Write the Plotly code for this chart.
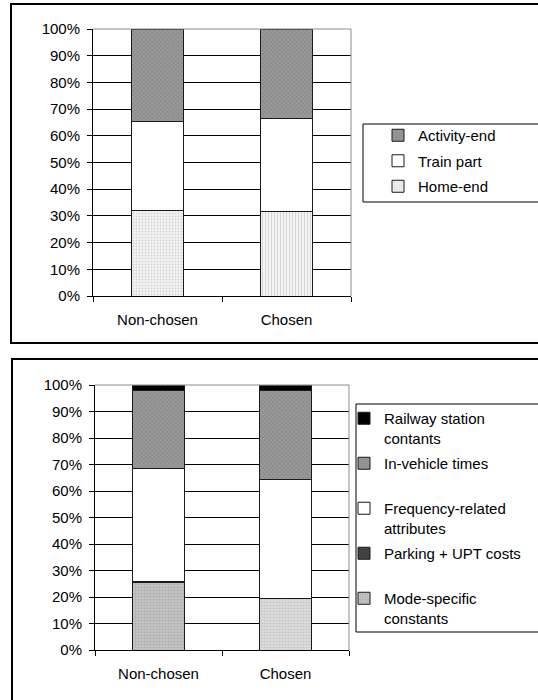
import plotly.graph_objects as go

W, H = 538, 700
categories = ["Non-chosen", "Chosen"]

# Top chart (percent shares)
home_end = [32.0, 31.6]
train_part = [33.5, 34.7]
activity_end = [34.5, 33.7]

# Bottom chart (percent shares)
mode_specific = [25.5, 19.3]
parking_upt = [0.2, 0.2]
frequency_related = [42.8, 44.8]
in_vehicle = [29.5, 33.7]
railway_station = [2.0, 2.0]

FONT = "Liberation Sans"

def px_x(v):
    return v / W

def px_y(v):
    return 1 - v / H

fig = go.Figure()
line = dict(color="#1a1a1a", width=1)

# --- top chart traces ---
fig.add_trace(go.Bar(x=categories, y=home_end, name="Home-end", xaxis="x", yaxis="y",
                     legend="legend", legendgroup="a1", legendrank=3,
                     marker=dict(color="white", line=line,
                                 pattern=dict(shape=[".", "|"], fgcolor="#b8b8b8", bgcolor="#f4f4f4",
                                              size=3, solidity=0.35))))
fig.add_trace(go.Bar(x=categories, y=train_part, name="Train part", xaxis="x", yaxis="y",
                     legend="legend", legendgroup="a2", legendrank=2,
                     marker=dict(color="white", line=line)))
fig.add_trace(go.Bar(x=categories, y=activity_end, name="Activity-end", xaxis="x", yaxis="y",
                     legend="legend", legendgroup="a3", legendrank=1,
                     marker=dict(color="#8a8a8a", line=line,
                                 pattern=dict(shape="x", fgcolor="#5a5a5a", bgcolor="#9a9a9a",
                                              size=3, solidity=0.3))))

# --- bottom chart traces ---
fig.add_trace(go.Bar(x=categories, y=mode_specific, name="Mode-specific<br>constants",
                     xaxis="x2", yaxis="y2", legend="legend2", legendgroup="b1", legendrank=5,
                     marker=dict(color="#c0c0c0", line=line,
                                 pattern=dict(shape=".", fgcolor=["#9a9a9a", "#b0b0b0"],
                                              bgcolor=["#c4c4c4", "#dcdcdc"], size=3, solidity=0.4))))
fig.add_trace(go.Bar(x=categories, y=parking_upt, name="Parking + UPT costs<br> ",
                     xaxis="x2", yaxis="y2", legend="legend2", legendgroup="b2", legendrank=4,
                     marker=dict(color="#333333", line=line,
                                 pattern=dict(shape="x", fgcolor="#111111", bgcolor="#4a4a4a",
                                              size=3, solidity=0.4))))
fig.add_trace(go.Bar(x=categories, y=frequency_related, name="Frequency-related<br>attributes",
                     xaxis="x2", yaxis="y2", legend="legend2", legendgroup="b3", legendrank=3,
                     marker=dict(color="white", line=line)))
fig.add_trace(go.Bar(x=categories, y=in_vehicle, name="In-vehicle times<br> ",
                     xaxis="x2", yaxis="y2", legend="legend2", legendgroup="b4", legendrank=2,
                     marker=dict(color="#8a8a8a", line=line,
                                 pattern=dict(shape="x", fgcolor="#5a5a5a", bgcolor="#9a9a9a",
                                              size=3, solidity=0.3))))
fig.add_trace(go.Bar(x=categories, y=railway_station, name="Railway station<br>contants",
                     xaxis="x2", yaxis="y2", legend="legend2", legendgroup="b5", legendrank=1,
                     marker=dict(color="black", line=line)))

yax = dict(range=[0, 100], dtick=10, ticksuffix="%", ticks="outside", ticklen=5,
           tickcolor="black", showline=True, linecolor="black", linewidth=1,
           showgrid=True, gridcolor="black", gridwidth=1, zeroline=False,
           ticklabelstandoff=4, automargin=False,
           tickfont=dict(size=15, color="black", family=FONT), fixedrange=True)
xax = dict(type="category", tickson="boundaries", ticks="outside", ticklen=5,
           tickcolor="black", showline=True, linecolor="black", linewidth=1,
           showgrid=False, tickfont=dict(size=15, color="black", family=FONT),
           ticklabelstandoff=10, automargin=False,
           range=[-0.5, 1.5], fixedrange=True)

legend_common = dict(bgcolor="rgba(0,0,0,0)", borderwidth=0, traceorder="grouped",
                     font=dict(size=15, color="black", family=FONT),
                     xanchor="left", yanchor="top", valign="top", tracegroupgap=3)

shapes = []
# panel frames
shapes.append(dict(type="rect", xref="paper", yref="paper",
                   x0=px_x(11), x1=px_x(548), y0=px_y(4), y1=px_y(343),
                   line=dict(color="black", width=2), layer="below"))
shapes.append(dict(type="rect", xref="paper", yref="paper",
                   x0=px_x(12), x1=px_x(548), y0=px_y(359), y1=px_y(710),
                   line=dict(color="black", width=2), layer="below"))
# legend boxes
shapes.append(dict(type="rect", xref="paper", yref="paper",
                   x0=px_x(363), x1=px_x(548), y0=px_y(124), y1=px_y(202),
                   line=dict(color="black", width=1), layer="below"))
shapes.append(dict(type="rect", xref="paper", yref="paper",
                   x0=px_x(356), x1=px_x(548), y0=px_y(404), y1=px_y(632),
                   line=dict(color="black", width=1), layer="below"))
# grey plot-area border (top & right)
for xr, yr in (("x domain", "y domain"), ("x2 domain", "y2 domain")):
    shapes.append(dict(type="line", xref=xr, yref=yr, x0=0, x1=1, y0=1, y1=1,
                       line=dict(color="#8c8c8c", width=1), layer="above"))
    shapes.append(dict(type="line", xref=xr, yref=yr, x0=1, x1=1, y0=0, y1=1,
                       line=dict(color="#8c8c8c", width=1), layer="above"))

fig.update_layout(
    width=W, height=H, margin=dict(l=0, r=0, t=0, b=0),
    paper_bgcolor="white", plot_bgcolor="white",
    barmode="stack", bargap=0.59,
    font=dict(family=FONT, size=15, color="black"),
    xaxis=dict(xax, domain=[px_x(93), px_x(351)], anchor="y"),
    yaxis=dict(yax, domain=[px_y(296), px_y(29)], anchor="x"),
    xaxis2=dict(xax, domain=[px_x(95), px_x(349)], anchor="y2"),
    yaxis2=dict(yax, domain=[px_y(650), px_y(385)], anchor="x2"),
    legend=dict(legend_common, x=px_x(378), y=px_y(119)),
    legend2=dict(legend_common, x=px_x(344), y=px_y(402)),
    shapes=shapes,
    showlegend=True,
)

fig.write_html("out.html")
